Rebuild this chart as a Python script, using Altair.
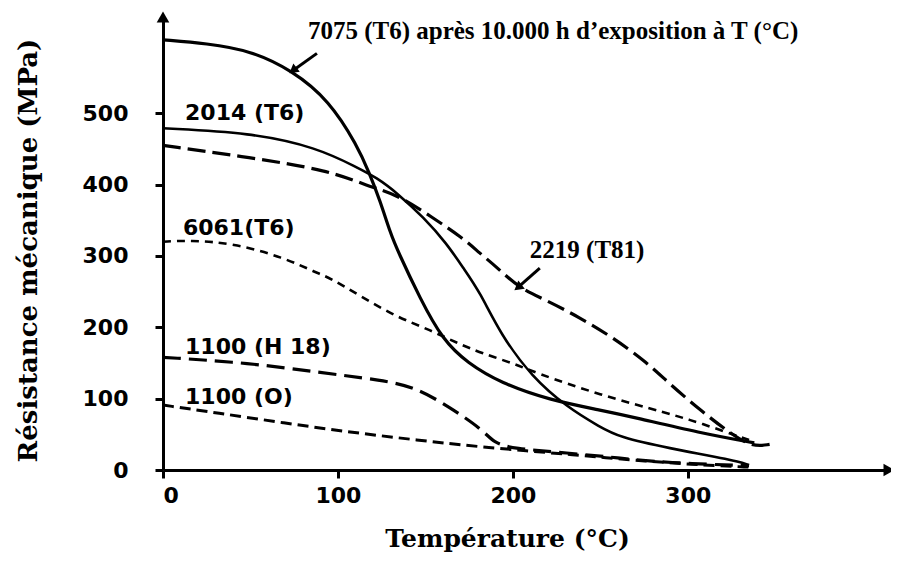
import altair as alt
import pandas as pd

# ---- curves: temperature (°C) and strength (MPa) ----
t_7075 = [0, 25, 50, 74, 95, 111, 118, 124, 130, 134, 147, 160, 174, 193, 221, 250, 269, 307, 338]
v_7075 = [603, 598, 588, 560, 518, 455, 416, 378, 332, 308, 240, 182, 150, 122, 98, 84, 74, 52, 38]

t_2014 = [0, 50, 88, 111, 122, 134, 149, 162, 172, 181, 193, 211, 231, 250, 261, 288, 326, 335]
v_2014 = [479, 473, 452, 424, 410, 388, 354, 318, 282, 250, 190, 130, 88, 60, 46, 31, 14, 7]

t_2219 = [0, 50, 95, 117, 134, 154, 171, 181, 191, 203, 219, 238, 257, 277, 289, 308, 324, 337, 347]
v_2219 = [455, 438, 420, 398, 386, 354, 326, 304, 284, 256, 238, 214, 186, 150, 122, 82, 52, 32, 36]

t_6061 = [0, 15, 40, 69, 88, 95, 114, 134, 153, 168, 182, 202, 211, 250, 288, 307, 335]
v_6061 = [320, 322, 318, 298, 276, 270, 242, 214, 196, 178, 164, 148, 138, 105, 80, 66, 42]

t_1100h = [0, 50, 88, 126, 145, 164, 183, 189, 200, 231, 260, 288, 335]
v_1100h = [158, 150, 137, 126, 115, 88, 56, 38, 30, 24, 17, 10, 6]

t_1100o = [0, 31, 69, 107, 145, 183, 208, 231, 250, 288, 317, 335]
v_1100o = [91, 80, 66, 53, 42, 32, 27, 22, 18, 10, 6, 4]

# ---- labels ----
serif_labels = ["7075 (T6) après 10.000 h d\u2019exposition à  T (°C)", "2219 (T81)"]
serif_t = [223, 209.7]
serif_v = [616, 308]
serif_align = ["center", "left"]

sans_labels = ["2014 (T6)", "6061(T6)", "1100  (H 18)", "1100 (O)"]
sans_t = [12.6, 11.4, 12.6, 12.6]
sans_v = [501, 339, 172, 102]

# ---- pointer arrows (start -> tip) ----
arr_t1 = [88, 215.4]
arr_v1 = [584, 283]
arr_t2 = [74.3, 202.9]
arr_v2 = [560, 256]

x_ticks = [0, 100, 200, 300]
y_ticks = [0, 100, 200, 300, 400, 500]
X_MAX = 415
Y_MAX = 635

xscale = alt.Scale(domain=[0, X_MAX], nice=False, zero=False)
yscale = alt.Scale(domain=[0, Y_MAX], nice=False, zero=False)

xaxis = alt.Axis(
    values=x_ticks, grid=False, domainColor="black", domainWidth=3,
    tickColor="black", tickWidth=3, tickSize=8,
    labelFont="DejaVu Sans", labelFontWeight="bold", labelFontSize=22,
    labelColor="black", labelPadding=7,
    title="Température  (°C)", titleFont="DejaVu Serif", titleFontWeight="bold",
    titleFontSize=25, titleColor="black", titleX=344, titleY=76,
    titleAlign="center", titleBaseline="alphabetic",
)
yaxis = alt.Axis(
    values=y_ticks, grid=False, domainColor="black", domainWidth=3,
    tickColor="black", tickWidth=3, tickSize=8,
    labelFont="DejaVu Sans", labelFontWeight="bold", labelFontSize=22,
    labelColor="black", labelPadding=27,
    title="Résistance mécanique (MPa)", titleFont="DejaVu Serif",
    titleFontWeight="bold", titleFontSize=26, titleColor="black",
    titleAngle=-90, titleX=-135, titleY=233, titleAlign="center",
    titleBaseline="middle",
)


def curve(t, v, width, dash=None):
    df = pd.DataFrame({"T": t, "R": v})
    kw = dict(color="black", strokeWidth=width, interpolate="basis")
    if dash is not None:
        kw["strokeDash"] = dash
    return alt.Chart(df).mark_line(**kw).encode(
        x=alt.X("T:Q", scale=xscale, axis=xaxis),
        y=alt.Y("R:Q", scale=yscale, axis=yaxis),
    )


layers = [
    curve(t_7075, v_7075, 3.2),
    curve(t_2014, v_2014, 2.6),
    curve(t_2219, v_2219, 3.2, [18, 7]),
    curve(t_6061, v_6061, 2.6, [8, 6]),
    curve(t_1100h, v_1100h, 3.2, [18, 8]),
    curve(t_1100o, v_1100o, 3.0, [11, 6]),
]

# axis arrowheads
head_x = alt.Chart(pd.DataFrame({"T": [X_MAX], "R": [0]})).mark_point(
    shape="triangle-right", filled=True, color="black", size=160, opacity=1
).encode(x=alt.X("T:Q", scale=xscale), y=alt.Y("R:Q", scale=yscale))
head_y = alt.Chart(pd.DataFrame({"T": [0], "R": [Y_MAX]})).mark_point(
    shape="triangle-up", filled=True, color="black", size=160, opacity=1
).encode(x=alt.X("T:Q", scale=xscale), y=alt.Y("R:Q", scale=yscale))

# pointer arrows
arr_df = pd.DataFrame({"T": arr_t1, "R": arr_v1, "T2": arr_t2, "R2": arr_v2})
arrows = alt.Chart(arr_df).mark_rule(color="black", strokeWidth=3).encode(
    x=alt.X("T:Q", scale=xscale), y=alt.Y("R:Q", scale=yscale),
    x2="T2:Q", y2="R2:Q",
)
arrow_heads = alt.Chart(arr_df).mark_point(
    shape="triangle-up", filled=True, color="black", size=110, angle=232, opacity=1
).encode(x=alt.X("T2:Q", scale=xscale), y=alt.Y("R2:Q", scale=yscale))

serif_df = pd.DataFrame({"T": serif_t, "R": serif_v, "txt": serif_labels, "al": serif_align})
serif_text = [
    alt.Chart(serif_df.iloc[[i]]).mark_text(
        font="Liberation Serif", fontWeight="bold", fontSize=25, color="black",
        align=serif_align[i], baseline="middle",
    ).encode(x=alt.X("T:Q", scale=xscale), y=alt.Y("R:Q", scale=yscale), text="txt:N")
    for i in range(len(serif_labels))
]

sans_df = pd.DataFrame({"T": sans_t, "R": sans_v, "txt": sans_labels})
sans_text = alt.Chart(sans_df).mark_text(
    font="DejaVu Sans", fontWeight="bold", fontSize=22, color="black",
    align="left", baseline="middle",
).encode(x=alt.X("T:Q", scale=xscale), y=alt.Y("R:Q", scale=yscale), text="txt:N")

chart = alt.layer(
    *layers, head_x, head_y, arrows, arrow_heads, *serif_text, sans_text
).properties(
    width=726,
    height=453,
    autosize="none",
    padding={"left": 155, "top": 9, "right": 2, "bottom": 82},
    background="white",
).configure_view(stroke=None)

chart.save("out.html", embed_options={"renderer": "svg", "actions": False})
